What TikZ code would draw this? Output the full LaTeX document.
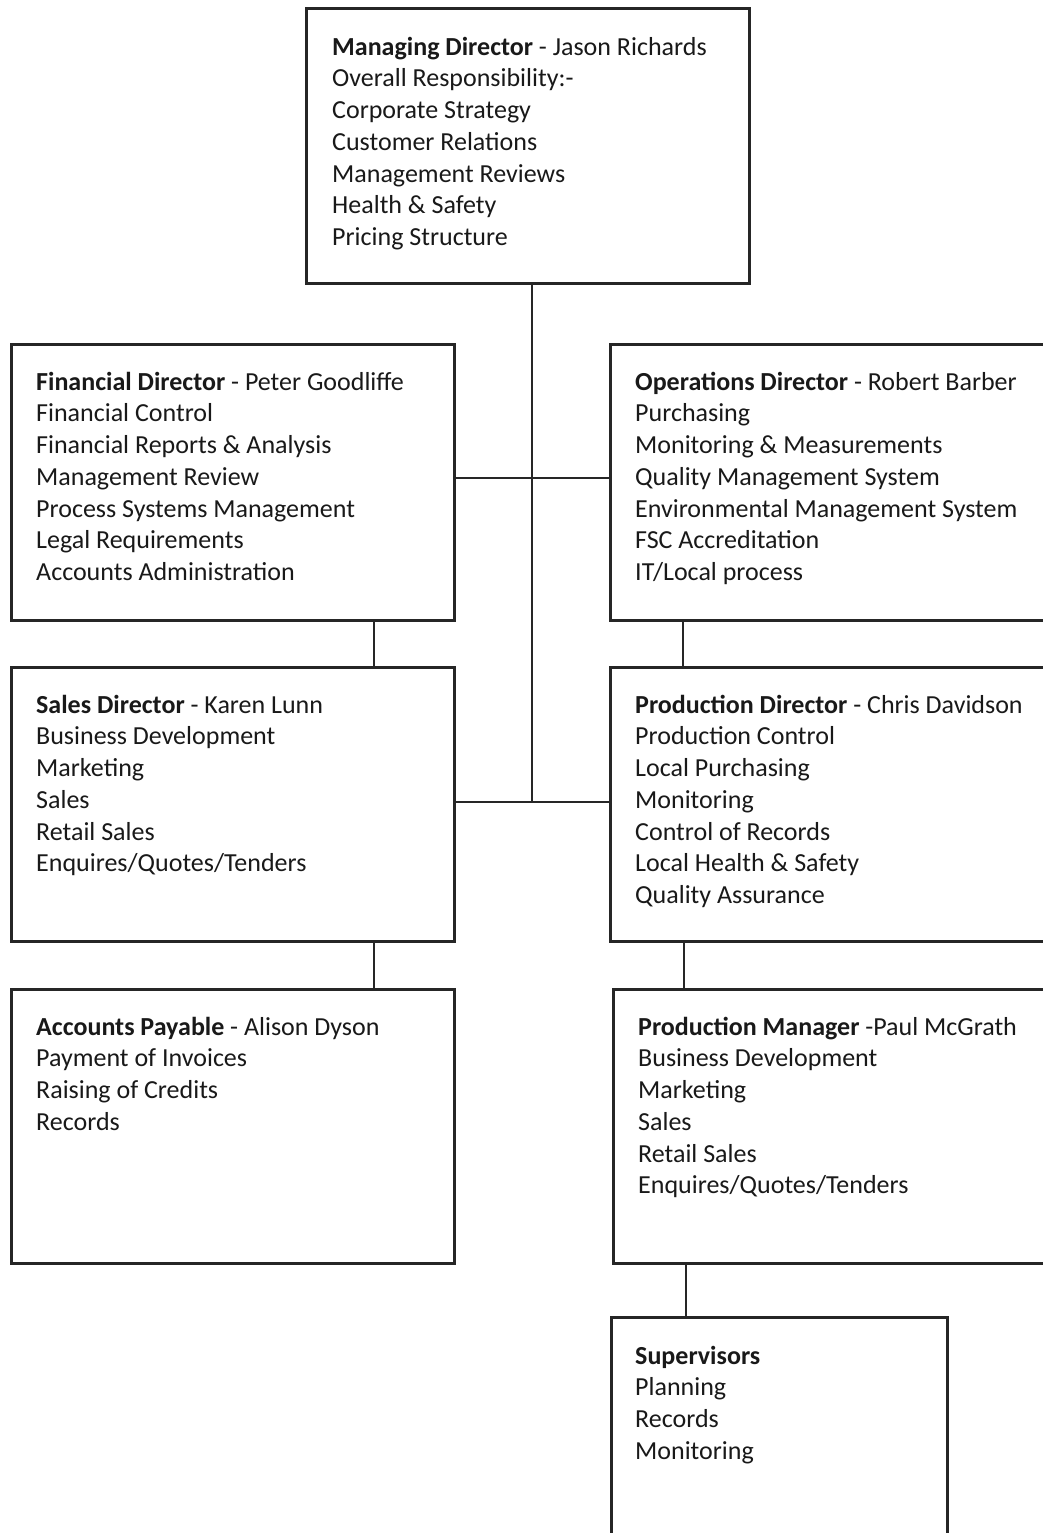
\documentclass[tikz,border=0pt]{standalone}
\usepackage{fontspec}
\setmainfont{Carlito}
\usetikzlibrary{calc}
\newcommand{\firstline}{\rule{0pt}{20pt}}
\begin{document}
\begin{tikzpicture}[x=1pt,y=-1pt,
  box/.style={draw=black!85, line width=3pt, inner sep=0pt, anchor=north west},
  txt/.style={anchor=north west, inner sep=0pt, align=left, text=black!90, font=\fontsize{26}{31.7}\selectfont},
  link/.style={draw=black!85, line width=2.4pt}]
\useasboundingbox[fill=white] (0,0) rectangle (1043,1533);
% boxes
\node[box, minimum width=443pt, minimum height=275pt] (md) at (305,7) {};
\node[box, minimum width=443pt, minimum height=276pt] (fd) at (10,343) {};
\node[box, minimum width=460pt, minimum height=276pt] (od) at (609,343) {};
\node[box, minimum width=443pt, minimum height=274pt] (sd) at (10,666) {};
\node[box, minimum width=460pt, minimum height=274pt] (pd) at (609,666) {};
\node[box, minimum width=443pt, minimum height=274pt] (ap) at (10,988) {};
\node[box, minimum width=460pt, minimum height=274pt] (pm) at (612,988) {};
\node[box, minimum width=336pt, minimum height=240pt] (sup) at (610,1316) {};
% texts
\node[txt] (mdt) at ($(md.north west)+(27,28)$) {\firstline\textbf{Managing Director} - Jason Richards\\Overall Responsibility:-\\Corporate Strategy\\Customer Relations\\Management Reviews\\Health \& Safety\\Pricing Structure};
\node[txt] (fdt) at ($(fd.north west)+(26,27)$) {\firstline\textbf{Financial Director} - Peter Goodliffe\\Financial Control\\Financial Reports \& Analysis\\Management Review\\Process Systems Management\\Legal Requirements\\Accounts Administration};
\node[txt] (odt) at ($(od.north west)+(26,27)$) {\firstline\textbf{Operations Director} - Robert Barber\\Purchasing\\Monitoring \& Measurements\\Quality Management System\\Environmental Management System\\FSC Accreditation\\IT/Local process};
\node[txt] (sdt) at ($(sd.north west)+(26,27)$) {\firstline\textbf{Sales Director} - Karen Lunn\\Business Development\\Marketing\\Sales\\Retail Sales\\Enquires/Quotes/Tenders};
\node[txt] (pdt) at ($(pd.north west)+(26,27)$) {\firstline\textbf{Production Director} - Chris Davidson\\Production Control\\Local Purchasing\\Monitoring\\Control of Records\\Local Health \& Safety\\Quality Assurance};
\node[txt] (apt) at ($(ap.north west)+(26,27)$) {\firstline\textbf{Accounts Payable} - Alison Dyson\\Payment of Invoices\\Raising of Credits\\Records};
\node[txt] (pmt) at ($(pm.north west)+(26,27)$) {\firstline\textbf{Production Manager} -Paul McGrath\\Business Development\\Marketing\\Sales\\Retail Sales\\Enquires/Quotes/Tenders};
\node[txt] (supt) at ($(sup.north west)+(25,28)$) {\firstline\textbf{Supervisors}\\Planning\\Records\\Monitoring};
% connectors
\coordinate (ja) at (532,478);
\coordinate (jb) at (532,802);
\coordinate (xl) at (374,0);
\coordinate (xr1) at (683,0);
\coordinate (xr2) at (684,0);
\coordinate (xr3) at (686,0);
\draw[link] (md.south -| ja) -- (jb);
\draw[link] (fd.east |- ja) -- (od.west |- ja);
\draw[link] (sd.east |- jb) -- (pd.west |- jb);
\draw[link] (fd.south -| xl) -- (sd.north -| xl);
\draw[link] (sd.south -| xl) -- (ap.north -| xl);
\draw[link] (od.south -| xr1) -- (pd.north -| xr1);
\draw[link] (pd.south -| xr2) -- (pm.north -| xr2);
\draw[link] (pm.south -| xr3) -- (sup.north -| xr3);
\end{tikzpicture}
\end{document}
